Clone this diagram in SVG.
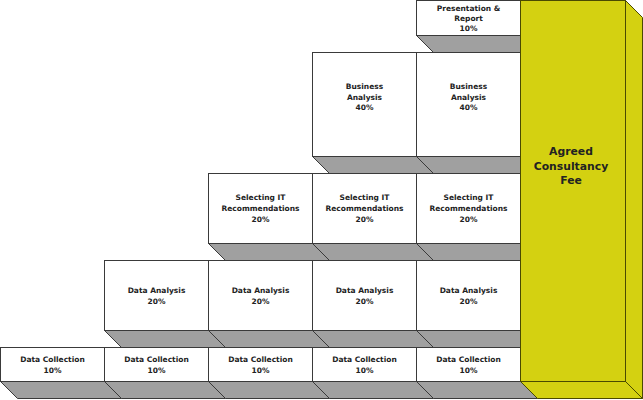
<svg xmlns="http://www.w3.org/2000/svg" width="643" height="400" viewBox="0 0 643 400">
<style>
.f{fill:#ffffff;stroke:#3a3a3a;stroke-width:1}
.g{fill:#a0a0a0;stroke:#3a3a3a;stroke-width:1;stroke-linejoin:miter}
.t{font-family:"DejaVu Sans",Verdana,sans-serif;font-weight:bold;font-size:7.5px;fill:#222;text-anchor:middle}
.y{fill:#d4d111;stroke:#4a4a00;stroke-width:1}
.yt{font-family:"DejaVu Sans",Verdana,sans-serif;font-weight:bold;font-size:10.8px;fill:#222;text-anchor:middle}
</style>
<rect width="643" height="400" fill="#ffffff"/>
<g id="connectors"></g>

<!-- Row 5 -->
<g id="pres5">
<polygon class="g" points="416.5,35.5 520.5,35.5 537.5,52.5 433.5,52.5"/>
<rect class="f" x="416.5" y="0.5" width="104" height="35"/>
<text class="t" x="468.5" y="10.5"><tspan x="468.5">Presentation &amp;</tspan><tspan x="468.5" dy="10.3">Report</tspan><tspan x="468.5" dy="10.3">10%</tspan></text>
</g>

<!-- Row 4 -->
<g id="ba4">
<polygon class="g" points="312.5,156.5 416.5,156.5 433.5,173.5 329.5,173.5"/>
<rect class="f" x="312.5" y="52.5" width="104" height="104"/>
<text class="t" x="364.5" y="89"><tspan x="364.5">Business</tspan><tspan x="364.5" dy="10.5">Analysis</tspan><tspan x="364.5" dy="10.5">40%</tspan></text>
</g>
<g id="ba5">
<polygon class="g" points="416.5,156.5 520.5,156.5 537.5,173.5 433.5,173.5"/>
<rect class="f" x="416.5" y="52.5" width="104" height="104"/>
<text class="t" x="468.5" y="89"><tspan x="468.5">Business</tspan><tspan x="468.5" dy="10.5">Analysis</tspan><tspan x="468.5" dy="10.5">40%</tspan></text>
</g>

<!-- Row 3 -->
<g id="sit3">
<polygon class="g" points="208.5,243.5 312.5,243.5 329.5,260.5 225.5,260.5"/>
<rect class="f" x="208.5" y="173.5" width="104" height="70"/>
<text class="t" x="260.5" y="200"><tspan x="260.5">Selecting IT</tspan><tspan x="260.5" dy="10.8">Recommendations</tspan><tspan x="260.5" dy="10.8">20%</tspan></text>
</g>
<g id="sit4">
<polygon class="g" points="312.5,243.5 416.5,243.5 433.5,260.5 329.5,260.5"/>
<rect class="f" x="312.5" y="173.5" width="104" height="70"/>
<text class="t" x="364.5" y="200"><tspan x="364.5">Selecting IT</tspan><tspan x="364.5" dy="10.8">Recommendations</tspan><tspan x="364.5" dy="10.8">20%</tspan></text>
</g>
<g id="sit5">
<polygon class="g" points="416.5,243.5 520.5,243.5 537.5,260.5 433.5,260.5"/>
<rect class="f" x="416.5" y="173.5" width="104" height="70"/>
<text class="t" x="468.5" y="200"><tspan x="468.5">Selecting IT</tspan><tspan x="468.5" dy="10.8">Recommendations</tspan><tspan x="468.5" dy="10.8">20%</tspan></text>
</g>

<!-- Row 2 -->
<g id="da2">
<polygon class="g" points="104.5,330.5 208.5,330.5 225.5,347.5 121.5,347.5"/>
<rect class="f" x="104.5" y="260.5" width="104" height="70"/>
<text class="t" x="156.5" y="293"><tspan x="156.5">Data Analysis</tspan><tspan x="156.5" dy="11">20%</tspan></text>
</g>
<g id="da3">
<polygon class="g" points="208.5,330.5 312.5,330.5 329.5,347.5 225.5,347.5"/>
<rect class="f" x="208.5" y="260.5" width="104" height="70"/>
<text class="t" x="260.5" y="293"><tspan x="260.5">Data Analysis</tspan><tspan x="260.5" dy="11">20%</tspan></text>
</g>
<g id="da4">
<polygon class="g" points="312.5,330.5 416.5,330.5 433.5,347.5 329.5,347.5"/>
<rect class="f" x="312.5" y="260.5" width="104" height="70"/>
<text class="t" x="364.5" y="293"><tspan x="364.5">Data Analysis</tspan><tspan x="364.5" dy="11">20%</tspan></text>
</g>
<g id="da5">
<polygon class="g" points="416.5,330.5 520.5,330.5 537.5,347.5 433.5,347.5"/>
<rect class="f" x="416.5" y="260.5" width="104" height="70"/>
<text class="t" x="468.5" y="293"><tspan x="468.5">Data Analysis</tspan><tspan x="468.5" dy="11">20%</tspan></text>
</g>

<!-- Row 1 -->
<g id="dc1">
<polygon class="g" points="0.5,381.5 104.5,381.5 121.5,398.5 17.5,398.5"/>
<rect class="f" x="0.5" y="347.5" width="104" height="34"/>
<text class="t" x="52.5" y="362"><tspan x="52.5">Data Collection</tspan><tspan x="52.5" dy="10.8">10%</tspan></text>
</g>
<g id="dc2">
<polygon class="g" points="104.5,381.5 208.5,381.5 225.5,398.5 121.5,398.5"/>
<rect class="f" x="104.5" y="347.5" width="104" height="34"/>
<text class="t" x="156.5" y="362"><tspan x="156.5">Data Collection</tspan><tspan x="156.5" dy="10.8">10%</tspan></text>
</g>
<g id="dc3">
<polygon class="g" points="208.5,381.5 312.5,381.5 329.5,398.5 225.5,398.5"/>
<rect class="f" x="208.5" y="347.5" width="104" height="34"/>
<text class="t" x="260.5" y="362"><tspan x="260.5">Data Collection</tspan><tspan x="260.5" dy="10.8">10%</tspan></text>
</g>
<g id="dc4">
<polygon class="g" points="312.5,381.5 416.5,381.5 433.5,398.5 329.5,398.5"/>
<rect class="f" x="312.5" y="347.5" width="104" height="34"/>
<text class="t" x="364.5" y="362"><tspan x="364.5">Data Collection</tspan><tspan x="364.5" dy="10.8">10%</tspan></text>
</g>
<g id="dc5">
<polygon class="g" points="416.5,381.5 520.5,381.5 537.5,398.5 433.5,398.5"/>
<rect class="f" x="416.5" y="347.5" width="104" height="34"/>
<text class="t" x="468.5" y="362"><tspan x="468.5">Data Collection</tspan><tspan x="468.5" dy="10.8">10%</tspan></text>
</g>

<!-- Agreed Consultancy Fee -->
<g id="fee">
<polygon class="y" points="625.5,0.5 642.5,17.5 642.5,398.5 625.5,381.5"/>
<polygon class="y" points="520.5,381.5 625.5,381.5 642.5,398.5 537.5,398.5"/>
<rect class="y" x="520.5" y="0.5" width="105" height="381"/>
<text class="yt" x="571" y="155"><tspan x="571">Agreed</tspan><tspan x="571" dy="14.7">Consultancy</tspan><tspan x="571" dy="14.7">Fee</tspan></text>
</g>
</svg>
